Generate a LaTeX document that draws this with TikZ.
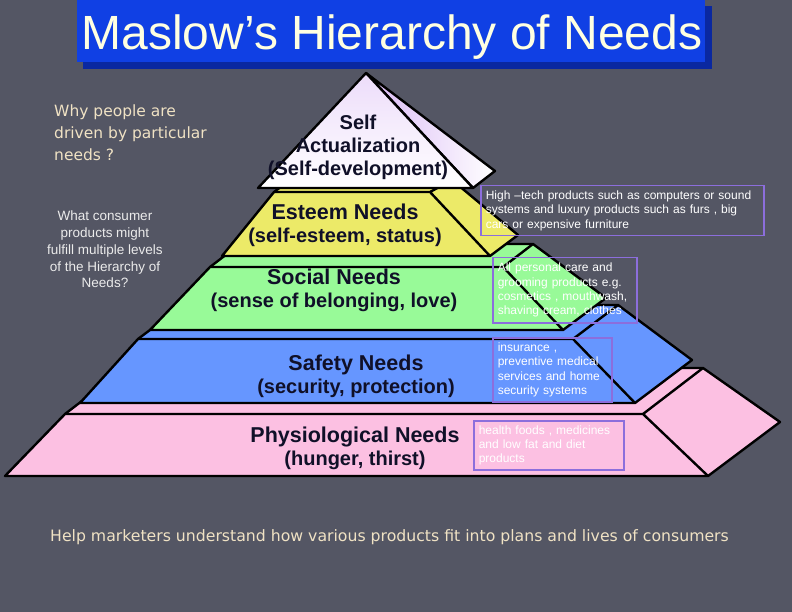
\documentclass[tikz,border=0pt]{standalone}
\usepackage{fontspec}
\setmainfont{Liberation Sans}
\newfontfamily\tahoma{DejaVu Sans}

\definecolor{slidebg}{RGB}{84,86,100}
\definecolor{titleblue}{RGB}{16,64,228}
\definecolor{titleshadow}{RGB}{10,40,160}
\definecolor{titletext}{RGB}{255,255,225}
\definecolor{creamtext}{RGB}{240,226,196}
\definecolor{boxpurple}{RGB}{140,110,220}
\definecolor{physpink}{RGB}{252,192,226}
\definecolor{safeblue}{RGB}{102,150,255}
\definecolor{socgreen}{RGB}{152,250,152}
\definecolor{estyellow}{RGB}{236,234,104}
\definecolor{selfviolet}{RGB}{214,178,244}
\definecolor{labelink}{RGB}{16,16,40}

\tikzset{
  layer/.style={draw=black, line width=2.4pt, line join=round},
  needtext/.style={align=center, text=labelink, inner sep=0pt,
    font=\bfseries\fontsize{20}{23}\selectfont},
  prodbox/.style={draw=boxpurple, line width=1.5pt, anchor=north west, align=left,
    inner xsep=5pt, inner ysep=0pt, text=white, font=\fontsize{12}{14.3}\selectfont},
}
\newcommand\needname[1]{{\fontsize{21.5}{23}\selectfont #1}}

\begin{document}
\begin{tikzpicture}[x=1pt, y=-1pt]
  % slide background
  \fill[slidebg] (0,0) rectangle (792,612);
  % title banner with its shadow
  \fill[titleshadow] (83,6) rectangle (712,69);
  \fill[titleblue] (77,0) rectangle (705,62);
  \node[text=titletext, inner sep=0pt, font=\fontsize{48}{50}\selectfont] (title) at (392,37) {Maslow’s Hierarchy of Needs};

  % questions on the left
  \node[anchor=west, align=left, text=creamtext, inner sep=0pt,
    font=\tahoma\fontsize{15.5}{22}\selectfont] (why) at (54,133) {Why people are\\driven by particular\\needs ?};
  \node[align=center, text=white!92!black, inner sep=0pt,
    font=\fontsize{13.5}{16.8}\selectfont] (what) at (105,249.5) {What consumer\\products might\\fulfill multiple levels\\of the Hierarchy of\\Needs?};

  % physiological layer (bottom)
  \draw[layer, fill=physpink] (5,476) -- (65,414) -- (125,368) -- (703,368) -- (780,422) -- (708,476) -- cycle;
  \draw[layer] (65,414) -- (643,414) -- (708,476) (643,414) -- (703,368);
  % safety layer
  \draw[layer, fill=safeblue] (80,403) -- (138,339) -- (183,305) -- (618,305) -- (692,360) -- (635,403) -- cycle;
  \draw[layer] (138,339) -- (573,339) -- (635,403) (573,339) -- (618,305);
  % social layer
  \draw[layer, fill=socgreen] (150,330) -- (210,267) -- (240,244) -- (533,244) -- (606,298) -- (563,330) -- cycle;
  \draw[layer] (210,267) -- (503,267) -- (563,330) (503,267) -- (533,244);
  % esteem layer
  \draw[layer, fill=estyellow] (222,256) -- (274,192) -- (290,180) -- (452,180) -- (518,235) -- (490,256) -- cycle;
  \draw[layer] (274,192) -- (430,192) -- (490,256) (430,192) -- (452,180);
  % self actualization (top)
  \draw[layer, left color=selfviolet!90, right color=white] (366,73) -- (495,171) -- (473,188) -- cycle;
  \draw[layer, top color=selfviolet!45, bottom color=white] (366,73) -- (473,188) -- (258,188) -- cycle;

  % layer names
  \node[needtext] (selfact) at (358,147) {Self\\Actualization\\(Self-development)};
  \node[needtext] (esteem) at (345,225.5) {\needname{Esteem Needs}\\(self-esteem, status)};
  \node[needtext] (social) at (334,290) {\needname{Social Needs}\\(sense of belonging, love)};
  \node[needtext] (safety) at (356,376) {\needname{Safety Needs}\\(security, protection)};
  \node[needtext] (physio) at (355,448.5) {\needname{Physiological Needs}\\(hunger, thirst)};

  % product examples
  \node[prodbox, text width=273pt, minimum height=50pt] (hightech) at (480,185) {High –tech products such as computers or sound\\systems and luxury products such as furs , big\\cars or expensive furniture};
  \node[prodbox, text width=134pt, minimum height=65pt] (grooming) at (492,257) {All personal care and\\grooming products e.g.\\cosmetics , mouthwash,\\shaving cream, clothes};
  \node[prodbox, text width=109pt, minimum height=64pt] (insurance) at (492,337) {insurance ,\\preventive medical\\services and home\\security systems};
  \node[prodbox, text width=140pt, minimum height=49pt] (healthfood) at (473,420) {health foods , medicines\\and low fat and diet\\products};

  % closing line
  \node[text=creamtext, inner sep=0pt, font=\tahoma\fontsize{15.7}{18}\selectfont] (help) at (389.5,537) {Help marketers understand how various products fit into plans and lives of consumers};
\end{tikzpicture}
\end{document}
